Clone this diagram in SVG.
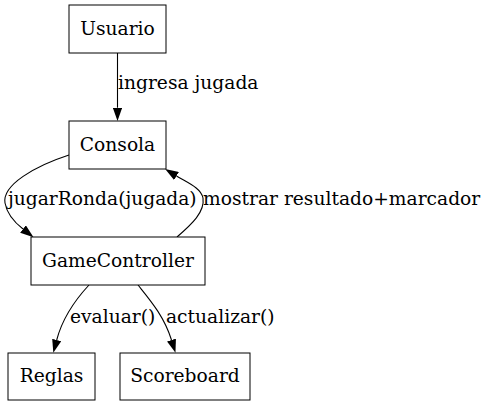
<svg xmlns="http://www.w3.org/2000/svg" width="489" height="407" viewBox="0 0 489 407">
<style>
.node rect{fill:#fff;stroke:#000;stroke-width:1}
text{font-family:"DejaVu Serif","Liberation Serif",serif;font-size:18.67px;fill:#000}
.node text{text-anchor:middle}
.edge{fill:none;stroke:#000;stroke-width:1.1;marker-end:url(#arr)}
</style>
<defs>
<marker id="arr" viewBox="0 0 13.3 9.3" refX="0" refY="4.65" markerWidth="13.3" markerHeight="9.3" markerUnits="userSpaceOnUse" orient="auto">
<path d="M0,0 L13.3,4.65 L0,9.3 z" fill="#000"/>
</marker>
</defs>
<rect width="489" height="407" fill="#fff"/>
<g id="connectors">
<path class="edge" d="M117.5,53 L117.5,107.7"/>
<text x="118" y="89">ingresa jugada</text>
<path class="edge" d="M69,155 C35,166 2,185 5,203 C7,214 14,222 23,229"/>
<text x="8" y="205">jugarRonda(jugada)</text>
<path class="edge" d="M177,237 C192,224 205,212 203,198 C201,188 188,183 176.5,176"/>
<text x="203" y="205">mostrar resultado+marcador</text>
<path class="edge" d="M89,285 C76,299 63,316 56.7,340"/>
<text x="70" y="323">evaluar()</text>
<path class="edge" d="M138,285 C150,300 164,316 171.5,340"/>
<text x="166" y="323">actualizar()</text>
</g>
<g id="Usuario" class="node"><rect x="69" y="5" width="97" height="48"/><text x="117.5" y="35">Usuario</text></g>
<g id="Consola" class="node"><rect x="69" y="121" width="97" height="48"/><text x="117.5" y="151">Consola</text></g>
<g id="GameController" class="node"><rect x="31" y="237" width="174" height="48"/><text x="118" y="267">GameController</text></g>
<g id="Reglas" class="node"><rect x="8" y="353" width="87" height="47"/><text x="51.5" y="382">Reglas</text></g>
<g id="Scoreboard" class="node"><rect x="120" y="353" width="130" height="47"/><text x="185" y="382">Scoreboard</text></g>
</svg>
